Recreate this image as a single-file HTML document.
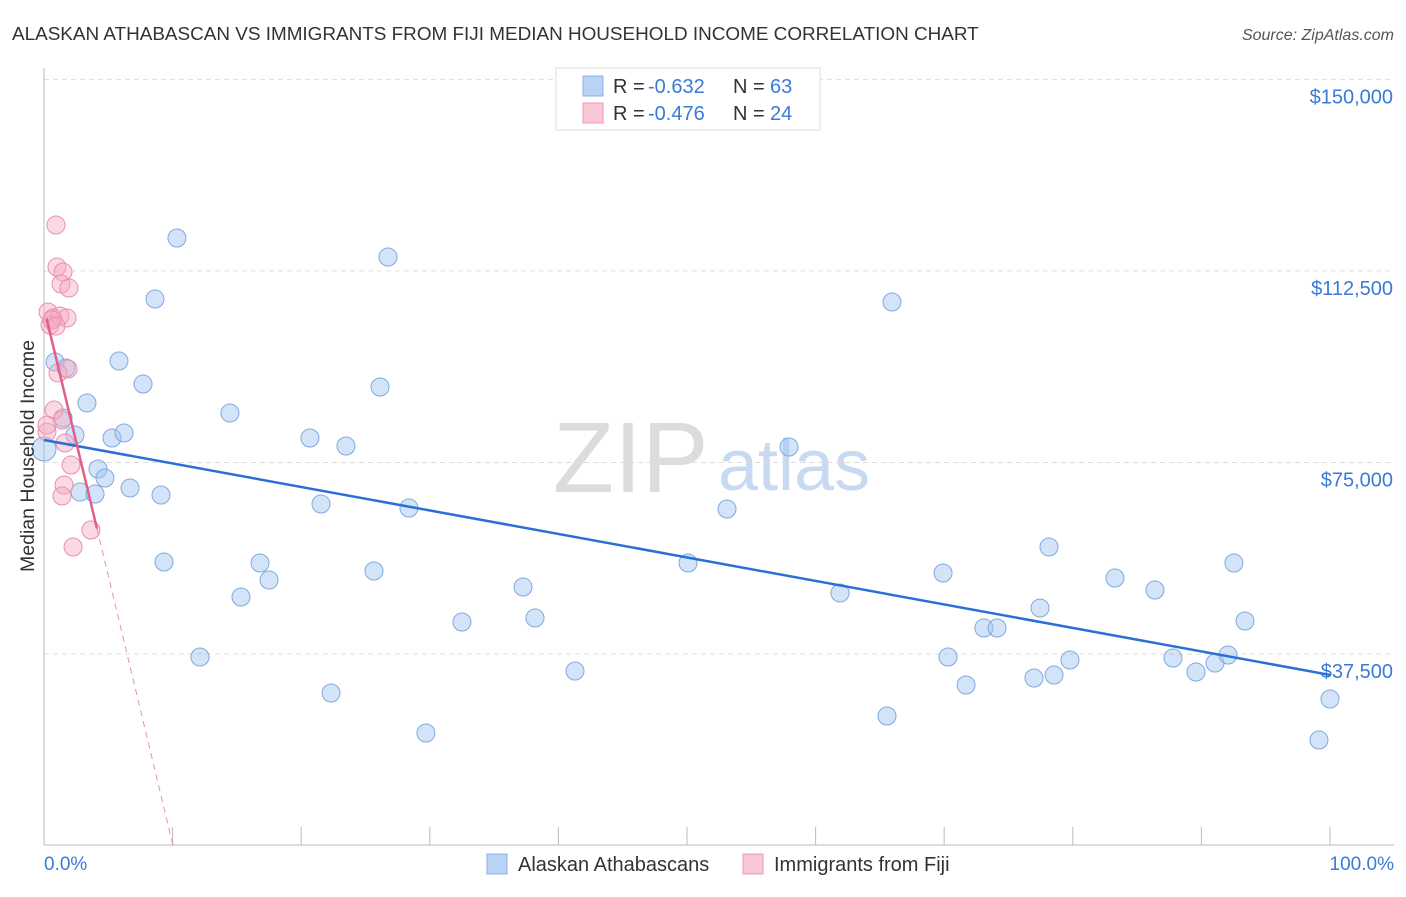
<!DOCTYPE html>
<html><head><meta charset="utf-8"><style>
body{margin:0;background:#fff;font-family:"Liberation Sans",sans-serif;}
svg text{font-family:"Liberation Sans",sans-serif;}
</style></head><body>
<svg id="c" width="1406" height="892" xmlns="http://www.w3.org/2000/svg">
<text x="12" y="40" font-size="18.9" fill="#333">ALASKAN ATHABASCAN VS IMMIGRANTS FROM FIJI MEDIAN HOUSEHOLD INCOME CORRELATION CHART</text>
<text x="1394" y="40" font-size="16" fill="#555" font-style="italic" text-anchor="end">Source: ZipAtlas.com</text>
<text x="553" y="492" font-size="100" fill="#dcdcdc" font-family="Liberation Serif">ZIP</text>
<text x="718" y="490" font-size="72" fill="#c8daf2">atlas</text>
<g id="grid"></g><g id="axes"></g><g id="pts"></g><g id="trend"></g>
<text x="34" y="456" font-size="19.5" fill="#333" text-anchor="middle" transform="rotate(-90 34 456)">Median Household Income</text>
<text x="44" y="870" font-size="19" fill="#3a7bd5">0.0%</text>
<text x="1394" y="870" font-size="19" fill="#3a7bd5" text-anchor="end">100.0%</text>
<g>
<rect x="556" y="68" width="264" height="62" fill="#fff" stroke="#ddd"/>
<rect x="583" y="76" width="20" height="20" fill="#b8d3f4" stroke="#8ab1e6"/>
<rect x="583" y="103" width="20" height="20" fill="#f9c6d6" stroke="#ec9ab5"/>
<text x="613" y="93" font-size="20" fill="#333">R =</text>
<text x="648" y="93" font-size="20" fill="#3a7bd5">-0.632</text>
<text x="733" y="93" font-size="20" fill="#333">N =</text>
<text x="770" y="93" font-size="20" fill="#3a7bd5">63</text>
<text x="613" y="120" font-size="20" fill="#333">R =</text>
<text x="648" y="120" font-size="20" fill="#3a7bd5">-0.476</text>
<text x="733" y="120" font-size="20" fill="#333">N =</text>
<text x="770" y="120" font-size="20" fill="#3a7bd5">24</text>
</g>
<g>
<rect x="487" y="854" width="20" height="20" fill="#b8d3f4" stroke="#8ab1e6"/>
<text x="518" y="871" font-size="20" fill="#333">Alaskan Athabascans</text>
<rect x="743" y="854" width="20" height="20" fill="#f9c6d6" stroke="#ec9ab5"/>
<text x="774" y="871" font-size="20" fill="#333">Immigrants from Fiji</text>
</g>
</svg>
<script>
const yTicks=[37500,75000,112500,150000];
const yTickLabels=["$37,500","$75,000","$112,500","$150,000"];
const xTicks=[0,10,20,30,40,50,60,70,80,90,100];
const blueX=[0,0.86,1.71,1.48,2.41,3.34,2.8,3.97,4.2,4.74,5.29,5.83,6.22,6.69,7.7,8.63,9.1,9.33,10.34,12.13,14.46,15.32,16.8,17.5,20.68,21.54,22.32,23.48,25.66,26.13,26.75,28.38,29.7,32.5,37.25,38.18,41.29,50.08,53.11,57.93,61.9,65.55,65.94,69.91,70.3,71.7,73.09,74.11,76.98,77.45,78.15,78.54,79.78,83.28,86.39,87.79,89.58,91.06,92.07,92.53,93.39,100,99.14];
const blueY=[77635,94670,93495,83705,80376,86642,69215,68824,73719,71957,79789,94865,80768,69999,90362,107005,68628,55509,118949,36908,84684,48656,55314,51985,79789,66866,29860,78222,53747,89774,115228,66083,22028,43761,50614,44545,34167,55314,65887,78026,49440,25356,106417,53356,36908,31426,42587,42587,32797,46502,58446,33384,36321,52377,50027,36713,33971,35734,37300,55314,43957,28684,20657];
const pinkX=[0.93,1.01,1.48,1.32,1.94,0.31,0.7,1.24,1.79,0.47,0.62,1.09,1.87,0.78,1.4,1.63,0.23,2.1,1.56,1.4,3.65,2.26,0.23,0.93];
const pinkY=[121494,113270,112291,109942,109159,104459,103285,103676,103285,101914,102893,92516,93299,85271,83313,78810,80963,74502,70586,68432,61775,58446,82320,101718];
const blueTrend=[79400,33400];
const pinkTrend=[105300,10.03,4.12];
const X=v=>44+v*12.86, Y=v=>845.5-v/195.8;
const ns="http://www.w3.org/2000/svg";
function mk(tag,attrs,parent){const e=document.createElementNS(ns,tag);for(const k in attrs)e.setAttribute(k,attrs[k]);document.getElementById(parent).appendChild(e);return e;}
yTicks.forEach((t,i)=>{
 let l=mk('line',{x1:44,x2:1394,y1:Y(t),y2:Y(t),stroke:'#ddd','stroke-dasharray':'5,4'},'grid');
 
 
 let tx=mk('text',{x:1393,y:Y(t)+24,'font-size':20,fill:'#3a7bd5','text-anchor':'end'},'grid');tx.textContent=yTickLabels[i];
 
 
});
let ax=mk('line',{x1:44,x2:44,y1:68,y2:845,stroke:'#bbb'},'axes');


let bx=mk('line',{x1:44,x2:1394,y1:845,y2:845,stroke:'#bbb'},'axes');


xTicks.forEach(t=>{let l=mk('line',{x1:X(t),x2:X(t),y1:827,y2:845,stroke:'#bbb'},'axes');
 
 });
blueX.forEach((x,i)=>{let c=mk('circle',{cx:X(x),cy:Y(blueY[i]),r:i==0?12:9,fill:'rgba(160,196,240,0.45)',stroke:'#7fa9e0','stroke-width':1},'pts');
 
 });
pinkX.forEach((x,i)=>{let c=mk('circle',{cx:X(x),cy:Y(pinkY[i]),r:9,fill:'rgba(244,170,195,0.45)',stroke:'#e890ac','stroke-width':1},'pts');
 
 });
let bt=mk('line',{x1:X(0),y1:Y(blueTrend[0]),x2:X(100),y2:Y(blueTrend[1]),stroke:'#2a6fd6','stroke-width':2.5},'trend');


const pv=x=>pinkTrend[0]*(1-x/pinkTrend[1]);
let pt=mk('line',{x1:X(0.2),y1:Y(pv(0.2)),x2:X(pinkTrend[2]),y2:Y(pv(pinkTrend[2])),stroke:'#e0608a','stroke-width':2.5},'trend');


let pd=mk('line',{x1:X(pinkTrend[2]),y1:Y(pv(pinkTrend[2])),x2:X(pinkTrend[1]),y2:Y(0),stroke:'#e890ac','stroke-width':1,'stroke-dasharray':'6,5'},'trend');


</script>
</body></html>
